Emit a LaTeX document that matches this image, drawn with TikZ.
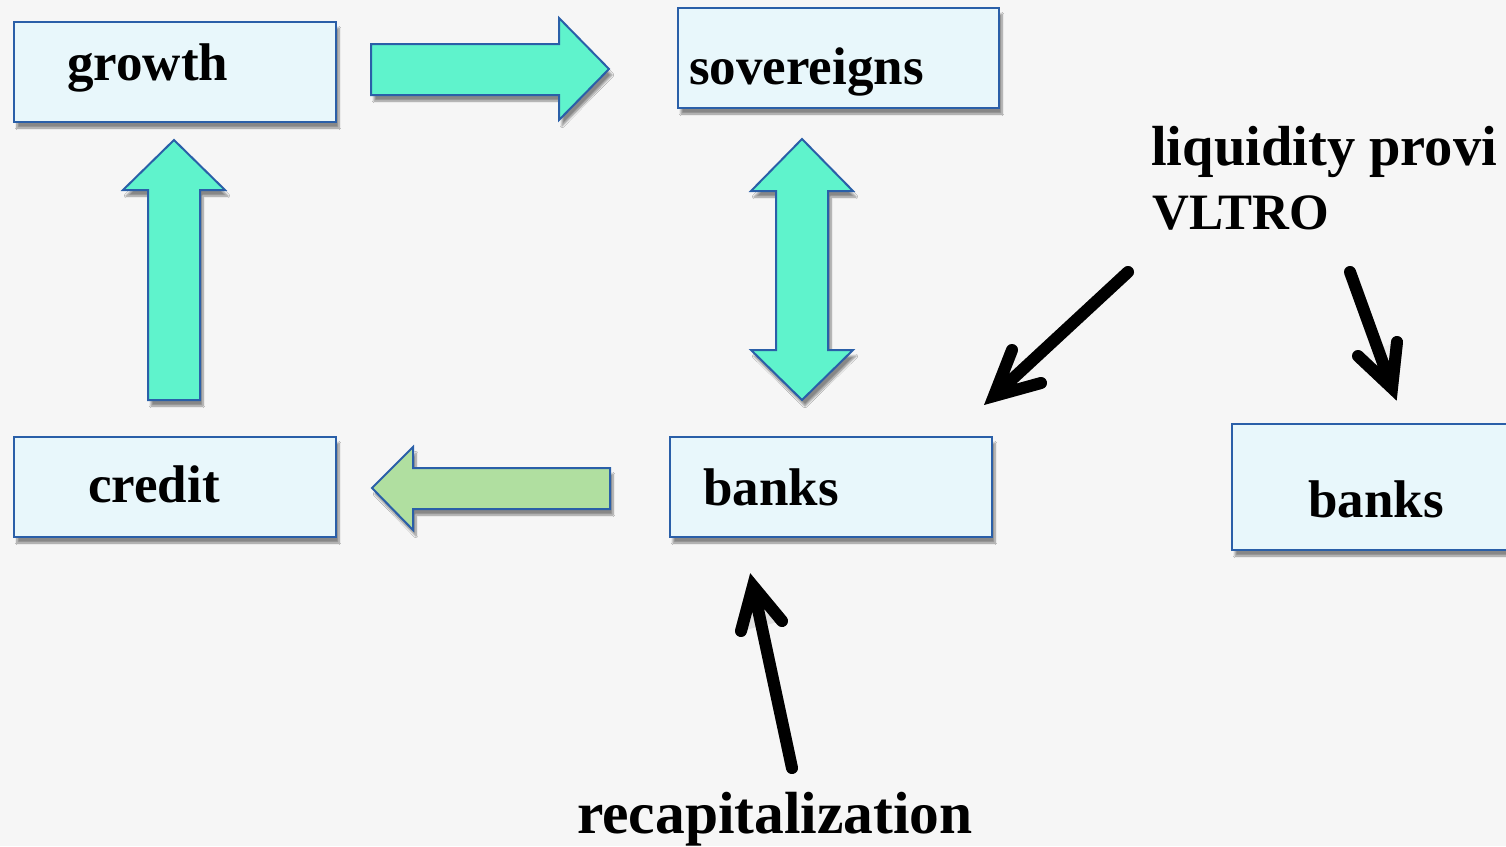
\documentclass[tikz,border=0pt]{standalone}
\usepackage{fontspec}
\setmainfont{Liberation Serif}
\usetikzlibrary{shadows.blur}
\definecolor{pagebg}{HTML}{F6F6F6}
\definecolor{boxfill}{HTML}{E8F7FB}
\definecolor{boxline}{HTML}{2A5FA8}
\definecolor{aqua}{HTML}{5FF3CC}
\definecolor{leaf}{HTML}{B0DFA0}
\definecolor{shade}{HTML}{33445A}
\tikzset{
  box/.style={draw=boxline, line width=2pt, fill=boxfill, rectangle,
    anchor=north west, inner sep=0pt,
    blur shadow={shadow xshift=3pt, shadow yshift=-6pt, shadow blur steps=8, shadow opacity=45}},
  lbl/.style={anchor=base west, inner sep=0pt, font=\fontsize{53}{60}\selectfont\bfseries},
  block/.style={draw=boxline, line width=2pt, line join=miter,
    blur shadow={shadow xshift=3pt, shadow yshift=-6pt, shadow blur steps=8, shadow opacity=45}},
  pointer/.style={line width=12pt, line cap=round, line join=miter, black},
  pointershade/.style={line width=12pt, line cap=round, line join=miter, shade, opacity=0.22},
}
\begin{document}
\begin{tikzpicture}[x=1pt, y=-1pt]
  \useasboundingbox (0,0) rectangle (1506,846);
  \clip (0,0) rectangle (1506,846);
  \fill[pagebg] (0,0) rectangle (1506,846);

  % boxes
  \node[box, minimum width=322pt, minimum height=100pt] (growth) at (13,21) {};
  \node[box, minimum width=321pt, minimum height=100pt] (sov) at (677,7) {};
  \node[box, minimum width=322pt, minimum height=100pt] (credit) at (13,436) {};
  \node[box, minimum width=322pt, minimum height=100pt] (banks) at (669,436) {};
  \node[box, minimum width=320pt, minimum height=126pt] (banksb) at (1231,423) {};

  % box texts
  \node[lbl] (tgrowth) at (67,80) {growth};
  \node[lbl] (tsov) at (689,84) {sovereigns};
  \node[lbl] (tcredit) at (88,502) {credit};
  \node[lbl] (tbanks) at (703,505) {banks};
  \node[lbl] (tbanksb) at (1308,517) {banks};

  % free labels
  \node[lbl, font=\fontsize{56.5}{62}\selectfont\bfseries] (liq) at (1151,165) {liquidity provi};
  \node[lbl, font=\fontsize{51}{60}\selectfont\bfseries] (vltro) at (1152,229) {VLTRO};
  \node[lbl, font=\fontsize{59.5}{66}\selectfont\bfseries] (recap) at (577,833) {recapitalization};

  % block arrows
  \draw[block, fill=aqua] (371,44) -- (559,44) -- (559,18) -- (609,69) -- (559,120)
    -- (559,95) -- (371,95) -- cycle;
  \draw[block, fill=aqua] (148,400) -- (148,190) -- (123,190) -- (174,140) -- (225,190)
    -- (200,190) -- (200,400) -- cycle;
  \draw[block, fill=aqua] (776,191) -- (751,191) -- (802,139) -- (853,191) -- (828,191)
    -- (828,350) -- (853,350) -- (802,400) -- (751,350) -- (776,350) -- cycle;
  \draw[block, fill=leaf] (610,468) -- (413,468) -- (413,447) -- (372,488) -- (413,530)
    -- (413,509) -- (610,509) -- cycle;

  % pointer arrows
  \coordinate (p1s) at (1128,272);
  \coordinate (p1t) at (994,396);
  \coordinate (p1a) at (1012,350);
  \coordinate (p1b) at (1041,383);
  \coordinate (p2s) at (1350,272);
  \coordinate (p2t) at (1392,388);
  \coordinate (p2a) at (1358,356);
  \coordinate (p2b) at (1397,342);
  \coordinate (p3s) at (792,768);
  \coordinate (p3t) at (753,586);
  \coordinate (p3a) at (741,631);
  \coordinate (p3b) at (782,621);
  \begin{scope}[shift={(4,5)}]
    \draw[pointershade] (p1s) -- (p1t) (p1a) -- (p1t) -- (p1b);
    \draw[pointershade] (p2s) -- (p2t) (p2a) -- (p2t) -- (p2b);
    \draw[pointershade] (p3s) -- (p3t) (p3a) -- (p3t) -- (p3b);
  \end{scope}
  \draw[pointer] (p1s) -- (p1t) (p1a) -- (p1t) -- (p1b);
  \draw[pointer] (p2s) -- (p2t) (p2a) -- (p2t) -- (p2b);
  \draw[pointer] (p3s) -- (p3t) (p3a) -- (p3t) -- (p3b);
\end{tikzpicture}
\end{document}
